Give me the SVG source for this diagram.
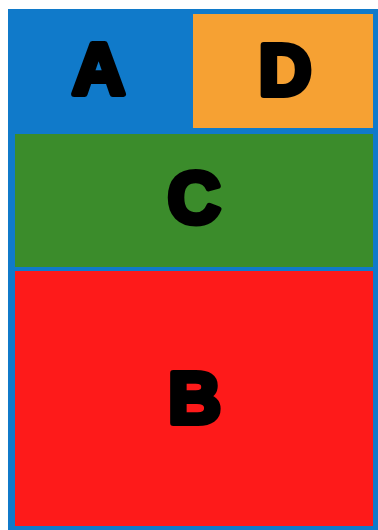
<svg xmlns="http://www.w3.org/2000/svg" width="378" height="530" viewBox="0 0 378 530">
<style>
.lbl{font-family:"Liberation Sans",Arial,sans-serif;font-weight:bold;font-size:73px;fill:#000;stroke:#000;stroke-width:6;stroke-linejoin:round;text-anchor:middle}
</style>
<rect x="0" y="0" width="378" height="530" fill="#ffffff"/>
<g id="container"><rect x="8" y="9" width="370" height="521" fill="#107aca"/></g>
<g id="A"><text class="lbl" x="98.5" y="94">A</text></g>
<g id="D"><rect x="193" y="14" width="180" height="114" fill="#f6a133"/><text class="lbl" x="285" y="95">D</text></g>
<g id="C"><rect x="15" y="134" width="358" height="133" fill="#3b8c2b"/><text class="lbl" x="194" y="223">C</text></g>
<g id="B"><rect x="15" y="271" width="358" height="255" fill="#fe1a1a"/><text class="lbl" x="194.5" y="423">B</text></g>
<g id="connectors"></g>
</svg>
